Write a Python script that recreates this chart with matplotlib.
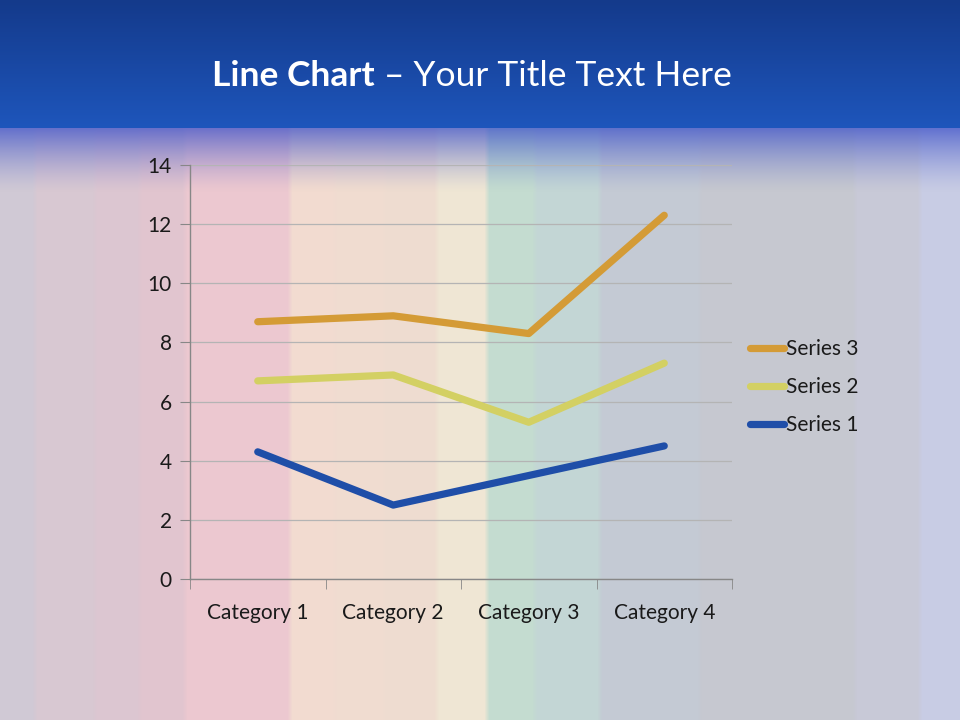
import matplotlib.pyplot as plt
import matplotlib.colors as mcolors
import numpy as np

# Chart data (stacked line chart, raw series values)
categories = ["Category 1", "Category 2", "Category 3", "Category 4"]
series_names = ["Series 1", "Series 2", "Series 3"]
series1 = [4.3, 2.5, 3.5, 4.5]
series2 = [2.4, 4.4, 1.8, 2.8]
series3 = [2.0, 2.0, 3.0, 5.0]
y_ticks = [0, 2, 4, 6, 8, 10, 12, 14]

LINE_COLOURS = ["#1f4ea8", "#d3d063", "#d49b36"]

# Background stripes: (left edge px, colour)
STRIPES = [
    (0, "#d0c9d5"), (35, "#d8c8d2"), (95, "#dcc6d1"), (140, "#e1c5cf"),
    (185, "#ecc8d0"), (290, "#f2dbd0"), (335, "#f0dcd0"), (385, "#eedcd0"),
    (437, "#efe6d4"), (487, "#c4dcd0"), (535, "#c3d6d5"), (600, "#c4cad4"),
    (700, "#c6c8d0"), (855, "#c8c9d7"), (920, "#c8cce4"),
]

W, H = 960, 720


def build_background():
    """Slide background: stripes, blue header and a fade below it."""
    img = np.zeros((H, W, 3))
    edges = [s[0] for s in STRIPES] + [W]
    for k, (x0, col) in enumerate(STRIPES):
        img[:, x0:edges[k + 1]] = mcolors.to_rgb(col)

    # soften stripe edges a little
    kern = np.ones(5) / 5
    row = img[0]
    soft = np.stack([np.convolve(np.pad(row[:, c], 2, mode="edge"), kern,
                                 mode="valid") for c in range(3)], axis=1)
    img[:] = soft

    # blue header with vertical gradient
    top = np.array(mcolors.to_rgb("#143a8b"))
    bot = np.array(mcolors.to_rgb("#1e56bc"))
    header_h = 128
    for y in range(header_h):
        t = y / header_h
        img[y, :] = top * (1 - t) + bot * t

    # semi-transparent blue fade into the stripes
    fade = np.array(mcolors.to_rgb("#3a4fc8"))
    for y in range(header_h, 192):
        t = (y - header_h) / (192 - header_h)
        a = 0.72 * (1 - t) ** 1.4
        img[y, :] = img[y, :] * (1 - a) + fade * a
    return img


fig = plt.figure(figsize=(9.6, 7.2), dpi=100)

ax_bg = fig.add_axes([0, 0, 1, 1], zorder=0)
ax_bg.imshow(build_background(), aspect="auto", extent=(0, W, H, 0))
ax_bg.set_axis_off()

plt.rcParams["font.family"] = ["Lato", "DejaVu Sans"]

ax = fig.add_axes([190 / W, 1 - 579 / H, 542 / W, 414 / H], zorder=1)
ax.patch.set_alpha(0)

x = np.arange(len(categories))
stacked = np.cumsum([series1, series2, series3], axis=0)
lines = []
for name, vals, col in zip(series_names, stacked, LINE_COLOURS):
    (ln,) = ax.plot(x, vals, color=col, lw=5.2, solid_capstyle="round",
                    solid_joinstyle="round", label=name, zorder=3)
    lines.append(ln)

ax.set_xlim(-0.5, len(categories) - 0.5)
ax.set_ylim(0, 14)
ax.set_yticks(y_ticks)
ax.set_xticks(x)
ax.set_xticklabels(categories)
ax.set_xticks(np.arange(-0.5, len(categories)), minor=True)

ax.grid(axis="y", color="#b4b4b4", lw=0.9, zorder=1)
ax.set_axisbelow(True)
for side in ["top", "right"]:
    ax.spines[side].set_visible(False)
for side in ["left", "bottom"]:
    ax.spines[side].set_color("#878787")
    ax.spines[side].set_linewidth(1.0)

ax.tick_params(axis="x", which="major", length=0, pad=17,
               labelsize=15, labelcolor="#1a1a1a")
ax.tick_params(axis="x", which="minor", length=7, color="#878787",
               direction="out")
ax.tick_params(axis="y", length=7, color="#878787", direction="out",
               labelsize=15, labelcolor="#1a1a1a", pad=6)

leg = ax.legend(handles=lines[::-1], loc="center left",
                bbox_to_anchor=(750 / W, 1 - 387 / H),
                bbox_transform=fig.transFigure, frameon=False,
                fontsize=15, handlelength=1.65, handletextpad=0.1,
                labelspacing=0.86, borderaxespad=0, borderpad=0)
for t in leg.get_texts():
    t.set_color("#1a1a1a")

# Title: bold part + regular part, centred as one line
renderer = fig.canvas.get_renderer()
title_y = 1 - 76 / H
t_bold = fig.text(0, title_y, "Line Chart", fontsize=25.5, fontweight="bold",
                  color="white", va="center", ha="left", zorder=5)
t_rest = fig.text(0, title_y, " \u2013 Your Title Text Here", fontsize=25.5,
                  color="white", va="center", ha="left", zorder=5)
w_bold = t_bold.get_window_extent(renderer).width
w_rest = t_rest.get_window_extent(renderer).width
x0 = 472 - (w_bold + w_rest) / 2
t_bold.set_x(x0 / W)
t_rest.set_x((x0 + w_bold) / W)

fig.savefig("out.png", dpi=100)
